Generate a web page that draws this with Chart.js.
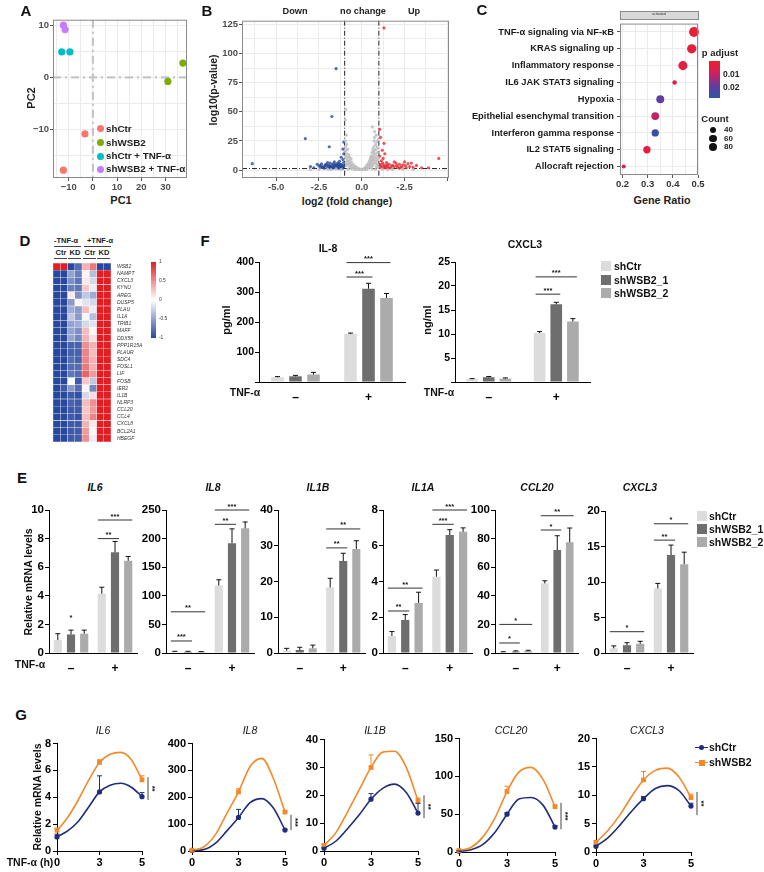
<!DOCTYPE html>
<html>
<head>
<meta charset="utf-8">
<script src="https://cdn.jsdelivr.net/npm/chart.js@4.4.1/dist/chart.umd.min.js"></script>
<style>
    body { margin: 0; background: #fff; }
    #fig { position: relative; width: 764px; height: 872px; overflow: hidden; font-family: "Liberation Sans", Arial, Helvetica, sans-serif; color: #111; }
    #fig canvas { position: absolute; }
</style>
</head>
<body>
<div id="fig"></div>
<script>
        // ---------- data ----------
        // A: PCA
        const pcaGroups = ['shCtr', 'shWSB2', 'shCtr + TNF-α', 'shWSB2 + TNF-α'];
        const shCtrPC = [[-3.3, -10.9], [-12.2, -17.9]];
        const shWsb2PC = [[37.2, 2.75], [31.0, -0.8]];
        const shCtrTnfPC = [[-12.9, 4.9], [-9.5, 4.9]];
        const shWsb2TnfPC = [[-12.2, 10.05], [-11.5, 9.2]];

        // B: volcano (log2 fold change, -log10 p)
        const volcanoTickValues = [-5, -2.5, 0, 2.5];
        const volcanoTickLabels = ['-5.0', '-2.5', '0.0', '-2.5'];
        const fcCut = 1;
        const pCut = 1.3;
        const downGenes = [[-6.4, 5.5], [-3.3, 27], [-1.75, 46], [-1.5, 87], [-1.9, 20], [-1.1, 18], [-1.05, 24],
            [-2.6, 5], [-2.5, 3.5], [-2.4, 4], [-2.3, 2.5], [-2.2, 3], [-2.1, 5], [-2.0, 2], [-1.95, 4], [-1.9, 3],
            [-1.85, 6], [-1.8, 2.5], [-1.75, 4.5], [-1.7, 3], [-1.65, 5.5], [-1.6, 2], [-1.55, 3.5], [-1.5, 4],
            [-1.45, 2.5], [-1.4, 6], [-1.35, 3], [-1.3, 4.5], [-1.25, 2], [-1.2, 5], [-1.15, 3.5], [-1.1, 2.5],
            [-1.05, 6.5], [-1.02, 4], [-1.3, 7.5], [-1.6, 7], [-2.8, 2], [-3.0, 3], [-2.0, 6.5], [-1.1, 9],
            [-1.2, 11], [-1.4, 1.8], [-1.7, 1.6], [-2.2, 1.7], [-1.05, 14], [-1.35, 5.5], [-1.5, 2.2], [-1.25, 3.2],
            [-1.15, 1.9], [-1.08, 3], [-1.9, 1.6], [-2.4, 2.2], [-1.12, 1.5], [-1.28, 2.6], [-1.42, 3.8], [-1.58, 4.4],
            [-1.72, 2.2], [-1.88, 3.6], [-2.05, 4.2], [-2.25, 2.1], [-2.35, 5.3], [-1.18, 4.2], [-1.33, 1.5],
            [-1.48, 5], [-1.62, 3], [-1.95, 2.4], [-2.15, 3.8]];
        const unchangedGenes = [[0.15, 1.5], [0.2, 2], [0.25, 3], [0.3, 4], [0.35, 5], [0.4, 6], [0.45, 8], [0.5, 10],
            [0.55, 12], [0.6, 15], [0.65, 18], [0.7, 20], [0.72, 25], [0.75, 28], [0.8, 22], [0.85, 18], [0.88, 12],
            [0.9, 8], [0.92, 5], [0.7, 10], [0.6, 7], [0.5, 5], [0.45, 3], [0.8, 14], [0.62, 37], [0.75, 33],
            [0.85, 30], [0.55, 2.5], [0.65, 4], [0.75, 6], [0.85, 3], [0.4, 2.5], [0.3, 1.8], [0.95, 26], [0.9, 20],
            [0.7, 14], [0.6, 9], [0.78, 11], [0.68, 16], [0.58, 11], [0.52, 7], [0.82, 9], [0.92, 15], [0.97, 10],
            [0.35, 2.8], [0.48, 4], [0.62, 5.5], [0.72, 8], [0.83, 6], [0.93, 3], [0.55, 8.5], [0.66, 12], [0.77, 17],
            [0.87, 24], [-0.25, 0.9], [-0.42, 2.6], [-0.58, 4.2], [-0.68, 5.8], [-0.78, 7.5], [-0.88, 4.2], [-0.95, 12],
            [-0.82, 18], [-0.72, 11], [-0.52, 2.2],
            [-0.2, 1.5], [-0.3, 2.5], [-0.4, 3.5], [-0.5, 5], [-0.6, 7], [-0.7, 9], [-0.8, 11], [-0.85, 14],
            [-0.9, 17], [-0.95, 20], [-0.97, 43], [-0.93, 52], [-0.9, 30], [-0.95, 25], [-0.65, 4], [-0.75, 6],
            [-0.55, 3], [-0.45, 2], [-0.35, 1.5], [-0.85, 8], [-0.8, 5], [-0.7, 3], [-0.9, 10], [-0.6, 2],
            [-0.5, 1.5], [-0.75, 13], [-0.92, 6], [-0.88, 22], [-0.98, 16], [-0.62, 10],
            [-2.5, 0.5], [-2.0, 0.8], [-1.5, 1.0], [-1.2, 0.6], [-0.8, 0.9], [-0.4, 0.3], [0, 0.2], [0.3, 0.5],
            [0.8, 0.7], [1.2, 0.9], [1.8, 0.6], [2.4, 0.8], [3.0, 0.5], [-0.1, 0.8], [0.1, 0.9], [-1.8, 0.4],
            [1.5, 0.3], [-3, 0.6], [-0.2, 0.4], [0.2, 0.3], [0.6, 1.0], [-0.6, 1.1]];
        const upGenes = [[1.3, 122], [1.05, 35], [1.1, 28], [1.3, 23], [1.2, 17], [1.05, 12], [4.5, 10], [1.1, 2],
            [1.2, 3], [1.3, 4.5], [1.4, 2.5], [1.5, 3.5], [1.6, 5], [1.7, 2], [1.8, 4], [1.9, 3], [2.0, 6],
            [2.1, 2.5], [2.2, 5], [2.3, 3], [2.4, 4.5], [2.5, 7], [2.6, 2], [2.7, 5.5], [2.8, 3], [3.0, 2.5],
            [3.2, 4], [3.5, 2], [1.15, 8], [1.25, 10], [1.45, 6.5], [1.02, 5], [1.35, 14], [1.9, 7], [2.9, 6],
            [3.9, 2], [1.6, 1.8], [2.2, 1.6], [1.08, 3.5], [1.12, 4.5], [1.22, 6], [1.38, 3.2], [1.55, 2.2],
            [1.75, 3.5], [2.05, 4], [2.35, 2.2], [2.55, 3.8], [1.28, 1.8], [1.48, 4.8]];

        // C: hallmark enrichment
        const pathways = ['TNF-α signaling via NF-κB', 'KRAS signaling up', 'Inflammatory response',
            'IL6 JAK STAT3 signaling', 'Hypoxia', 'Epithelial esenchymal transition',
            'Interferon gamma response', 'IL2 STAT5 signaling', 'Allocraft rejection'];
        const geneRatio = [0.484, 0.475, 0.44, 0.407, 0.35, 0.33, 0.33, 0.297, 0.205];
        const geneCount = [105, 95, 90, 22, 68, 66, 58, 58, 18];
        const pAdjust = [0.002, 0.003, 0.004, 0.006, 0.021, 0.011, 0.026, 0.004, 0.010];
        const countLegend = [40, 60, 80];

        // D: heatmap (z-scores)
        const heatGenes = ['WSB2', 'NAMPT', 'CXCL3', 'KYNU', 'AREG', 'DUSP5', 'PLAU', 'IL1A', 'TRIB1', 'MAFF',
            'DDX58', 'PPP1R15A', 'PLAUR', 'SDC4', 'FOSL1', 'LIF', 'FOSB', 'IER2', 'IL1B', 'NLRP3', 'CCL20',
            'CCL4', 'CXCL8', 'BCL2A1', 'HBEGF'];
        const heatValues = [
            [1.0, 1.0, -1.0, -0.8, 0.35, 0.6, -1.0, -1.0],
            [-1.0, -1.0, -0.5, -0.7, 0.05, -0.35, 1.0, 1.0],
            [-1.0, -1.0, -0.6, -0.75, 0.1, -0.2, 1.0, 1.0],
            [-1.0, -1.0, -0.7, -0.75, 0.25, -0.1, 1.0, 1.0],
            [-1.0, -1.0, 0.1, -0.6, -0.3, -0.45, 1.0, 1.0],
            [-1.0, -1.0, -0.55, 0.05, -0.15, -0.2, 1.0, 1.0],
            [-1.0, -1.0, -0.45, -0.55, 0.3, -0.1, 1.0, 1.0],
            [-1.0, -1.0, -0.3, -0.55, -0.05, -0.35, 1.0, 1.0],
            [-1.0, -1.0, -0.5, -0.45, -0.2, -0.15, 1.0, 1.0],
            [-1.0, -1.0, -0.5, -0.6, 0.3, 0.05, 1.0, 1.0],
            [-1.0, -1.0, -0.5, -0.65, 0.35, 0.15, 1.0, 1.0],
            [-1.0, -1.0, -0.85, -0.85, 0.5, 0.35, 1.0, 1.0],
            [-1.0, -1.0, -0.85, -0.85, 0.55, 0.3, 1.0, 1.0],
            [-1.0, -1.0, -0.8, -0.85, 0.55, 0.35, 1.0, 1.0],
            [-1.0, -1.0, -0.8, -0.8, 0.6, 0.35, 1.0, 1.0],
            [-1.0, -1.0, -0.75, -0.8, 0.7, 0.45, 1.0, 1.0],
            [-1.0, -1.0, 0.0, -0.9, 0.25, -0.3, 1.0, 1.0],
            [-1.0, -0.9, -0.55, -0.8, 0.05, -0.65, 1.0, 1.0],
            [-1.0, -1.0, -0.9, -0.95, -0.2, 0.15, 1.0, 1.0],
            [-1.0, -1.0, -0.85, -0.9, 0.3, 0.5, 1.0, 1.0],
            [-1.0, -1.0, -0.9, -0.9, 0.25, 0.45, 1.0, 1.0],
            [-1.0, -1.0, -0.9, -0.95, 0.3, 0.55, 1.0, 1.0],
            [-1.0, -1.0, -0.9, -0.9, 0.35, 0.1, 1.0, 1.0],
            [-1.0, -1.0, -0.9, -0.9, 0.45, 0.05, 1.0, 1.0],
            [-1.0, -1.0, -0.9, -0.9, 0.5, -0.1, 1.0, 1.0]
        ];
        const heatColumns = 8;

        // E / F: bars, order [- shCtr, - shWSB2_1, - shWSB2_2, + shCtr, + shWSB2_1, + shWSB2_2]
        const tnfLabels = ['–', '+'];
        const groupNames = ['shCtr', 'shWSB2_1', 'shWSB2_2'];

        const il8ProteinMean = [16, 19, 25, 160, 311, 280];
        const il8ProteinErr = [2, 3, 7, 3, 18, 15];
        const cxcl3ProteinMean = [0.6, 1.0, 0.7, 10.2, 16.2, 12.6];
        const cxcl3ProteinErr = [0.1, 0.15, 0.15, 0.3, 0.4, 0.6];

        const il6Mean = [0.9, 1.3, 1.35, 4.15, 7.05, 6.45];
        const il6Err = [0.45, 0.3, 0.25, 0.45, 0.75, 0.3];
        const il8Mean = [2, 2, 2, 118, 192, 218];
        const il8Err = [1, 1, 0.5, 10, 25, 11];
        const il1bMean = [0.65, 0.85, 1.3, 18.3, 25.7, 29.1];
        const il1bErr = [0.65, 0.75, 0.9, 2.6, 2.2, 2.3];
        const il1aMean = [0.95, 1.85, 2.8, 4.27, 6.6, 6.78];
        const il1aErr = [0.25, 0.3, 0.6, 0.37, 0.3, 0.22];
        const ccl20Mean = [0.6, 1.0, 1.4, 48.7, 72, 77.4];
        const ccl20Err = [0.3, 0.5, 0.5, 1.8, 10, 10];
        const cxcl3Mean = [0.65, 1.1, 1.3, 9.1, 13.8, 12.5];
        const cxcl3Err = [0.35, 0.35, 0.35, 0.7, 1.4, 1.7];

        // G: time course (0, 3, 5 h) and fitted curves
        const timeLabels = ['0', '3', '5'];
        const timeU = [0, 1, 2];
        const curveU = [0, 0.25, 0.5, 0.75, 1, 1.25, 1.5, 1.75, 2];

        const il6TimeCtr = [1.05, 4.4, 4.05];
        const il6TimeCtrErr = [0.2, 1.2, 0.3];
        const il6TimeKd = [1.55, 6.6, 5.3];
        const il6TimeKdErr = [0.15, 0.2, 0.3];
        const il6CurveCtr = [1.05, 1.5, 2.2, 3.3, 4.4, 4.9, 5.05, 4.75, 4.05];
        const il6CurveKd = [1.5, 2.5, 3.8, 5.3, 6.6, 7.2, 7.35, 6.8, 5.3];

        const il8TimeCtr = [2, 125, 78];
        const il8TimeCtrErr = [0, 30, 3];
        const il8TimeKd = [3, 220, 145];
        const il8TimeKdErr = [0, 12, 5];
        const il8CurveCtr = [2, 5, 28, 75, 125, 180, 195, 160, 78];
        const il8CurveKd = [3, 15, 60, 140, 220, 315, 345, 270, 145];

        const il1bTimeCtr = [1, 18.6, 13.6];
        const il1bTimeCtrErr = [0.3, 2, 3.5];
        const il1bTimeKd = [2, 30, 18];
        const il1bTimeKdErr = [0.3, 4.5, 1];
        const il1bCurveCtr = [1, 3.5, 8, 13, 18.6, 22.5, 24, 21, 13.6];
        const il1bCurveKd = [2, 6.5, 14, 22, 30, 35.5, 35.8, 30, 18];

        const ccl20TimeCtr = [1, 50, 33];
        const ccl20TimeCtrErr = [0.5, 2, 2];
        const ccl20TimeKd = [2, 80, 60];
        const ccl20TimeKdErr = [0.5, 7, 2];
        const ccl20CurveCtr = [1, 3, 10, 26, 50, 70, 72, 62, 33];
        const ccl20CurveKd = [2, 6, 20, 45, 80, 106, 112, 96, 60];

        const cxcl3TimeCtr = [1.0, 9.4, 8.1];
        const cxcl3TimeCtrErr = [0.2, 0.4, 0.5];
        const cxcl3TimeKd = [1.7, 12.7, 9.6];
        const cxcl3TimeKdErr = [0.3, 1.5, 0.6];
        const cxcl3CurveCtr = [1.0, 2.5, 4.7, 7.2, 9.4, 11.2, 11.7, 10.8, 8.1];
        const cxcl3CurveKd = [1.7, 3.8, 6.5, 9.8, 12.7, 14.4, 14.8, 13.2, 9.6];

        // ---------- styles ----------
        const FONT = '"Liberation Sans", Arial, Helvetica, sans-serif';
        const pcaColors = ['#f8766d', '#7cae00', '#00bfc4', '#c77cff'];
        const barColors = ['#dcdcdc', '#6e6e6e', '#ababab'];
        const ctrColor = '#1f2d7b';
        const kdColor = '#f28a2a';

        Chart.defaults.font.family = FONT;
        Chart.defaults.color = '#111';
        Chart.defaults.animation = false;
        Chart.defaults.events = [];
        Chart.defaults.responsive = false;
        Chart.defaults.maintainAspectRatio = false;
        Chart.defaults.plugins.legend.display = false;
        Chart.defaults.plugins.tooltip.enabled = false;

        // error bars, significance marks, reference lines, panel frame
        Chart.register({
            id: 'marks',
            beforeDatasetsDraw(chart, args, o) {
                const { ctx, chartArea: a, scales } = chart;
                (o.refLines || []).forEach(r => {
                    ctx.save();
                    ctx.strokeStyle = r.color;
                    ctx.lineWidth = r.width;
                    ctx.setLineDash(r.dash || []);
                    ctx.beginPath();
                    if ('x' in r) {
                        const p = scales.x.getPixelForValue(r.x);
                        ctx.moveTo(p, a.top); ctx.lineTo(p, a.bottom);
                    } else {
                        const p = scales.y.getPixelForValue(r.y);
                        ctx.moveTo(a.left, p); ctx.lineTo(a.right, p);
                    }
                    ctx.stroke();
                    ctx.restore();
                });
            },
            afterDatasetsDraw(chart, args, o) {
                const { ctx, chartArea: a, scales: { x, y } } = chart;
                ctx.save();
                ctx.lineWidth = 1;
                (o.errors || []).forEach((errs, di) => {
                    if (!errs) return;
                    const meta = chart.getDatasetMeta(di);
                    ctx.strokeStyle = o.errorColor ? o.errorColor[di] : '#111';
                    meta.data.forEach((el, i) => {
                        if (!errs[i]) return;
                        const raw = chart.data.datasets[di].data[i];
                        const v = typeof raw === 'number' ? raw : raw.y;
                        const top = y.getPixelForValue(v + errs[i]);
                        ctx.beginPath();
                        ctx.moveTo(el.x, el.y); ctx.lineTo(el.x, top);
                        ctx.moveTo(el.x - 2.5, top); ctx.lineTo(el.x + 2.5, top);
                        ctx.stroke();
                    });
                });
                ctx.fillStyle = '#111';
                ctx.font = 'bold 7.5px ' + FONT;
                ctx.textAlign = 'center';
                (o.sig || []).forEach(s => {
                    const xa = chart.getDatasetMeta(s.a).data[s.g].x;
                    const xb = chart.getDatasetMeta(s.b).data[s.g].x;
                    const py = y.getPixelForValue(s.y);
                    if (s.line !== false) {
                        ctx.strokeStyle = '#333';
                        ctx.beginPath(); ctx.moveTo(xa - 4, py); ctx.lineTo(xb + 4, py); ctx.stroke();
                    }
                    ctx.textBaseline = 'alphabetic';
                    ctx.fillText(s.t, (xa + xb) / 2, py - 1.5);
                });
                (o.sigV || []).forEach(s => {
                    const px = x.getPixelForValue(s.x) + 6;
                    const y1 = y.getPixelForValue(s.y1), y2 = y.getPixelForValue(s.y2);
                    ctx.strokeStyle = '#444';
                    ctx.beginPath(); ctx.moveTo(px, y1); ctx.lineTo(px, y2); ctx.stroke();
                    ctx.save();
                    ctx.translate(px + 4, (y1 + y2) / 2);
                    ctx.rotate(Math.PI / 2);
                    ctx.textBaseline = 'middle';
                    ctx.fillText(s.t, 0, 0);
                    ctx.restore();
                });
                if (o.frame) {
                    ctx.strokeStyle = o.frame;
                    ctx.strokeRect(a.left + 0.5, a.top + 0.5, a.width - 1, a.height - 1);
                }
                ctx.restore();
            }
        });

        const fig = document.getElementById('fig');

        // place a chart so that its plot area sits on box (page pixels)
        function chartAt(box, pad, config) {
            const c = document.createElement('canvas');
            const w = box.r - box.l + pad.l + pad.r;
            const h = box.b - box.t + pad.t + pad.b;
            c.width = w; c.height = h;
            c.style.left = (box.l - pad.l) + 'px';
            c.style.top = (box.t - pad.t) + 'px';
            c.style.width = w + 'px';
            c.style.height = h + 'px';
            fig.appendChild(c);
            const sc = config.options.scales;
            const yRight = sc.y.position === 'right';
            const xShown = sc.x.display !== false;
            config.options.layout = { padding: { top: pad.t, bottom: xShown ? 0 : pad.b, left: yRight ? pad.l : 0, right: yRight ? 0 : pad.r } };
            sc.x.afterFit = s => { s.height = pad.b; };
            sc.y.afterFit = s => { s.width = yRight ? pad.r : pad.l; };
            return new Chart(c, config);
        }

        function text(str, x, y, size, o = {}) {
            const d = document.createElement('div');
            d.textContent = str;
            d.style.cssText = 'position:absolute;white-space:nowrap;line-height:1;left:' + x + 'px;top:' + y + 'px;font-size:' + size +
                'px;font-weight:' + (o.weight || 'bold') + ';font-style:' + (o.italic ? 'italic' : 'normal') + ';color:' + (o.color || '#111') + ';';
            const ax = o.align === 'left' ? '0' : o.align === 'right' ? '-100%' : '-50%';
            d.style.transform = 'translate(' + ax + ',-50%)' + (o.rotate ? ' rotate(-90deg)' : '');
            fig.appendChild(d);
        }

        function shape(x, y, w, h, css) {
            const d = document.createElement('div');
            d.style.cssText = 'position:absolute;left:' + x + 'px;top:' + y + 'px;width:' + w + 'px;height:' + h + 'px;' + css;
            fig.appendChild(d);
        }

        function mix(stops, t) {
            t = Math.max(0, Math.min(1, t));
            for (let i = 1; i < stops.length; i++) {
                if (t <= stops[i][0]) {
                    const [t0, c0] = stops[i - 1], [t1, c1] = stops[i];
                    const f = (t - t0) / (t1 - t0);
                    return 'rgb(' + c0.map((v, k) => Math.round(v + (c1[k] - v) * f)).join(',') + ')';
                }
            }
            return 'rgb(' + stops[stops.length - 1][1].join(',') + ')';
        }
        const padjStops = [[0, [238, 32, 42]], [0.35, [210, 30, 95]], [0.72, [100, 60, 160]], [1, [45, 85, 165]]];
        const heatStops = [[0, [40, 72, 160]], [0.5, [255, 255, 255]], [1, [224, 30, 36]]];
        const padjColor = p => mix(padjStops, p / 0.028);
        const heatColor = v => mix(heatStops, (v + 1) / 2);
        const countRadius = n => 0.48 * Math.sqrt(n);

        const ggGrid = { color: '#ebebeb', tickLength: 3 };
        const ggTicks = { autoSkip: false, maxRotation: 0, includeBounds: false, maxTicksLimit: 60, color: '#4d4d4d', font: { size: 9.5, weight: 'bold' }, padding: 1 };
        const isStep = (v, s) => Math.abs(v / s - Math.round(v / s)) < 1e-6;

        // ---------- A: PCA ----------
        chartAt({ l: 53, t: 17, r: 187, b: 178 }, { l: 28, r: 8, t: 4, b: 14 }, {
            type: 'scatter',
            data: {
                datasets: [shCtrPC, shWsb2PC, shCtrTnfPC, shWsb2TnfPC].map((pts, i) => ({
                    label: pcaGroups[i],
                    data: pts.map(p => ({ x: p[0], y: p[1] })),
                    backgroundColor: pcaColors[i], borderWidth: 0, pointRadius: 3.6, clip: false
                }))
            },
            options: {
                scales: {
                    x: {
                        min: -16.5, max: 38.9, border: { display: false },
                        grid: { ...ggGrid, tickColor: c => c.tick && isStep(c.tick.value, 10) ? '#555' : 'transparent' },
                        ticks: { ...ggTicks, stepSize: 5, callback: v => isStep(v, 10) ? String(v).replace('-', '−') : '' }
                    },
                    y: {
                        min: -19.4, max: 11.1, border: { display: false },
                        grid: { ...ggGrid, tickColor: c => c.tick && isStep(c.tick.value, 10) ? '#555' : 'transparent' },
                        ticks: { ...ggTicks, stepSize: 5, callback: v => isStep(v, 10) ? String(v).replace('-', '−') : '' }
                    }
                },
                plugins: {
                    marks: {
                        frame: '#8a8a8a',
                        refLines: [
                            { x: 0, color: '#c6c6c6', width: 2.2, dash: [8, 4, 2, 4] },
                            { y: 0, color: '#c6c6c6', width: 2.2, dash: [8, 4, 2, 4] }
                        ]
                    }
                }
            }
        });

        // ---------- B: volcano ----------
        const volcanoSet = (pts, color) => ({
            data: pts.map(p => ({ x: p[0], y: p[1] })),
            backgroundColor: color, borderWidth: 0, pointRadius: 1.6
        });
        chartAt({ l: 242, t: 18, r: 449, b: 178 }, { l: 30, r: 6, t: 4, b: 14 }, {
            type: 'scatter',
            data: {
                datasets: [
                    volcanoSet(unchangedGenes, 'rgba(190,190,190,0.85)'),
                    volcanoSet(downGenes, 'rgba(40,72,155,0.8)'),
                    volcanoSet(upGenes, 'rgba(226,45,50,0.8)')
                ]
            },
            options: {
                scales: {
                    x: {
                        min: -7.0, max: 5.1, border: { display: false },
                        grid: { ...ggGrid, tickColor: c => c.tick && isStep(c.tick.value, 2.5) ? '#555' : 'transparent' },
                        ticks: {
                            ...ggTicks, stepSize: 1.25,
                            callback: v => {
                                const i = volcanoTickValues.findIndex(t => Math.abs(t - v) < 1e-6);
                                return i < 0 ? '' : volcanoTickLabels[i];
                            }
                        }
                    },
                    y: {
                        min: -6.8, max: 128.2, border: { display: false },
                        grid: { ...ggGrid, tickColor: c => c.tick && isStep(c.tick.value, 25) ? '#555' : 'transparent' },
                        ticks: { ...ggTicks, stepSize: 12.5, callback: v => isStep(v, 25) ? v : '' }
                    }
                },
                plugins: {
                    marks: {
                        frame: '#8a8a8a',
                        refLines: [
                            { x: -fcCut, color: '#222', width: 1, dash: [5, 2, 1, 2] },
                            { x: fcCut, color: '#222', width: 1, dash: [5, 2, 1, 2] },
                            { y: pCut, color: '#222', width: 1, dash: [5, 2, 1, 2] }
                        ]
                    }
                }
            }
        });

        // ---------- C: enrichment dot plot ----------
        chartAt({ l: 620, t: 19, r: 698, b: 175 }, { l: 160, r: 10, t: 4, b: 14 }, {
            type: 'bubble',
            data: {
                datasets: [{
                    data: pathways.map((p, i) => ({ x: geneRatio[i], y: p, r: countRadius(geneCount[i]) })),
                    backgroundColor: pAdjust.map(padjColor), borderWidth: 0, clip: false
                }]
            },
            options: {
                scales: {
                    x: {
                        min: 0.19, max: 0.5, border: { display: false },
                        grid: { ...ggGrid, tickColor: c => c.tick && isStep(c.tick.value, 0.1) ? '#555' : 'transparent' },
                        ticks: { ...ggTicks, stepSize: 0.05, color: '#333', callback: v => isStep(v, 0.1) ? v.toFixed(1) : '' }
                    },
                    y: {
                        type: 'category', labels: pathways, offset: true, border: { display: false },
                        grid: { ...ggGrid, offset: false, tickColor: '#555' },
                        ticks: { autoSkip: false, color: '#1a1a1a', font: { size: 9.3, weight: 'bold' }, padding: 3 }
                    }
                },
                plugins: { marks: { frame: '#8a8a8a' } }
            }
        });

        // ---------- D: heatmap ----------
        chartAt({ l: 53, t: 262, r: 111, b: 443 }, { l: 0, r: 40, t: 0, b: 0 }, {
            type: 'bar',
            data: {
                labels: heatGenes,
                datasets: Array.from({ length: heatColumns }, (_, j) => ({
                    data: heatGenes.map(() => 1),
                    backgroundColor: heatGenes.map((g, i) => heatColor(heatValues[i][j])),
                    borderColor: 'rgba(255,255,255,0.35)', borderWidth: 0.5, borderSkipped: false,
                    barPercentage: 1, categoryPercentage: 1
                }))
            },
            options: {
                indexAxis: 'y',
                scales: {
                    x: { display: false, stacked: true, min: 0, max: heatColumns },
                    y: {
                        position: 'right', stacked: true, grid: { display: false }, border: { display: false },
                        ticks: { autoSkip: false, color: '#333', font: { size: 5, style: 'italic' }, padding: -2 }
                    }
                }
            }
        });

        // ---------- E / F: grouped bars ----------
        function groupedBars(box, pad, yMax, yStep, means, errs, sigs, o) {
            return chartAt(box, pad, {
                type: 'bar',
                data: {
                    labels: tnfLabels,
                    datasets: groupNames.map((name, k) => ({
                        label: name, data: [means[k], means[k + 3]], backgroundColor: barColors[k],
                        barPercentage: o.barPct, categoryPercentage: o.catPct
                    }))
                },
                options: {
                    scales: {
                        x: {
                            grid: { display: false }, border: { color: '#000', width: 1 },
                            ticks: { color: '#000', font: { size: 12, weight: 'bold' }, padding: 0 }
                        },
                        y: {
                            min: 0, max: yMax, border: { color: '#000', width: 1 },
                            grid: { drawOnChartArea: false, tickLength: 4, tickColor: '#000' },
                            ticks: {
                                stepSize: yStep, autoSkip: false, color: '#000', font: { size: o.tickSize, weight: 'bold' }, padding: 1,
                                callback: v => (o.hideZero && v === 0) ? '' : v
                            }
                        }
                    },
                    plugins: { marks: { errors: groupNames.map((n, k) => [errs[k], errs[k + 3]]), sig: sigs } }
                }
            });
        }

        const fOpts = { barPct: 0.7, catPct: 0.74, tickSize: 10.5, hideZero: true };
        const fPad = { l: 36, r: 6, t: 18, b: 22 };
        groupedBars({ l: 259, t: 262, r: 405, b: 382 }, fPad, 400, 100, il8ProteinMean, il8ProteinErr,
            [{ g: 1, a: 0, b: 1, y: 350, t: '***' }, { g: 1, a: 0, b: 2, y: 398, t: '***' }], fOpts);
        groupedBars({ l: 455, t: 262, r: 590, b: 382 }, fPad, 25, 5, cxcl3ProteinMean, cxcl3ProteinErr,
            [{ g: 1, a: 0, b: 1, y: 18.3, t: '***' }, { g: 1, a: 0, b: 2, y: 21.9, t: '***' }], fOpts);

        const eOpts = { barPct: 0.62, catPct: 0.9, tickSize: 11.5, hideZero: false };
        const ePad = { l: 32, r: 6, t: 16, b: 22 };
        groupedBars({ l: 49, t: 510, r: 137, b: 653 }, ePad, 10, 2, il6Mean, il6Err,
            [{ g: 0, a: 1, b: 1, y: 2.2, t: '*', line: false }, { g: 1, a: 0, b: 1, y: 8.0, t: '**' }, { g: 1, a: 0, b: 2, y: 9.3, t: '***' }], eOpts);
        groupedBars({ l: 166, t: 510, r: 254, b: 653 }, ePad, 250, 50, il8Mean, il8Err,
            [{ g: 0, a: 0, b: 2, y: 72, t: '**' }, { g: 0, a: 0, b: 1, y: 21, t: '***' }, { g: 1, a: 0, b: 1, y: 225, t: '**' }, { g: 1, a: 0, b: 2, y: 250, t: '***' }], eOpts);
        groupedBars({ l: 278, t: 510, r: 365, b: 653 }, ePad, 40, 10, il1bMean, il1bErr,
            [{ g: 1, a: 0, b: 1, y: 29.4, t: '**' }, { g: 1, a: 0, b: 2, y: 34.7, t: '**' }], eOpts);
        groupedBars({ l: 383, t: 510, r: 472, b: 653 }, ePad, 8, 2, il1aMean, il1aErr,
            [{ g: 0, a: 0, b: 1, y: 2.35, t: '**' }, { g: 0, a: 0, b: 2, y: 3.63, t: '**' }, { g: 1, a: 0, b: 1, y: 7.2, t: '***' }, { g: 1, a: 0, b: 2, y: 8.0, t: '***' }], eOpts);
        groupedBars({ l: 495, t: 510, r: 578, b: 653 }, ePad, 100, 20, ccl20Mean, ccl20Err,
            [{ g: 0, a: 0, b: 1, y: 7, t: '*' }, { g: 0, a: 0, b: 2, y: 20, t: '*' }, { g: 1, a: 0, b: 1, y: 86, t: '*' }, { g: 1, a: 0, b: 2, y: 96, t: '**' }], eOpts);
        groupedBars({ l: 605, t: 511, r: 693, b: 653 }, ePad, 20, 5, cxcl3Mean, cxcl3Err,
            [{ g: 0, a: 0, b: 2, y: 3, t: '*' }, { g: 1, a: 0, b: 1, y: 15.9, t: '**' }, { g: 1, a: 0, b: 2, y: 18.2, t: '*' }], eOpts);

        // ---------- G: time course ----------
        function timeCourse(box, yMax, yStep, curveCtr, curveKd, ptCtr, ptKd, errCtr, errKd, sigV) {
            const pts = (xs, ys) => xs.map((x, i) => ({ x, y: ys[i] }));
            return chartAt(box, { l: 32, r: 22, t: 8, b: 20 }, {
                type: 'scatter',
                data: {
                    datasets: [
                        { data: pts(curveU, curveKd), showLine: true, borderColor: kdColor, borderWidth: 1.6, pointRadius: 0, cubicInterpolationMode: 'monotone', clip: false },
                        { data: pts(curveU, curveCtr), showLine: true, borderColor: ctrColor, borderWidth: 1.6, pointRadius: 0, cubicInterpolationMode: 'monotone', clip: false },
                        { data: pts(timeU, ptKd), pointStyle: 'rect', pointRadius: 3.4, backgroundColor: kdColor, borderWidth: 0, clip: false },
                        { data: pts(timeU, ptCtr), pointStyle: 'circle', pointRadius: 2.6, backgroundColor: ctrColor, borderWidth: 0, clip: false }
                    ]
                },
                options: {
                    scales: {
                        x: {
                            min: 0, max: 2, border: { color: '#000', width: 1 },
                            grid: { drawOnChartArea: false, tickLength: 4, tickColor: '#000' },
                            ticks: { stepSize: 1, autoSkip: false, color: '#000', font: { size: 11, weight: 'bold' }, padding: 1, callback: v => timeLabels[v] }
                        },
                        y: {
                            min: 0, max: yMax, border: { color: '#000', width: 1 },
                            grid: { drawOnChartArea: false, tickLength: 4, tickColor: '#000' },
                            ticks: { stepSize: yStep, autoSkip: false, color: '#000', font: { size: 11, weight: 'bold' }, padding: 2 }
                        }
                    },
                    plugins: { marks: { errors: [null, null, errKd, errCtr], errorColor: [null, null, kdColor, ctrColor], sigV: [sigV] } }
                }
            });
        }

        timeCourse({ l: 57, t: 743, r: 142, b: 851 }, 8, 2, il6CurveCtr, il6CurveKd, il6TimeCtr, il6TimeKd, il6TimeCtrErr, il6TimeKdErr,
            { x: 2, y1: 5.5, y2: 3.8, t: '**' });
        timeCourse({ l: 192, t: 743, r: 285, b: 851 }, 400, 100, il8CurveCtr, il8CurveKd, il8TimeCtr, il8TimeKd, il8TimeCtrErr, il8TimeKdErr,
            { x: 2, y1: 135, y2: 78, t: '***' });
        timeCourse({ l: 324, t: 739, r: 418, b: 851 }, 40, 10, il1bCurveCtr, il1bCurveKd, il1bTimeCtr, il1bTimeKd, il1bTimeCtrErr, il1bTimeKdErr,
            { x: 2, y1: 20, y2: 11.8, t: '**' });
        timeCourse({ l: 459, t: 738, r: 555, b: 852 }, 150, 50, ccl20CurveCtr, ccl20CurveKd, ccl20TimeCtr, ccl20TimeKd, ccl20TimeCtrErr, ccl20TimeKdErr,
            { x: 2, y1: 65, y2: 30, t: '***' });
        timeCourse({ l: 596, t: 738, r: 691, b: 852 }, 20, 5, cxcl3CurveCtr, cxcl3CurveKd, cxcl3TimeCtr, cxcl3TimeKd, cxcl3TimeCtrErr, cxcl3TimeKdErr,
            { x: 2, y1: 10.6, y2: 6.5, t: '**' });

        // ---------- text, legends ----------
        [['A', 26, 10], ['B', 207, 10], ['C', 482, 9], ['D', 25, 240], ['F', 205, 240], ['E', 22, 477], ['G', 21, 714]]
            .forEach(([s, x, y]) => text(s, x, y, 15));

        // A
        text('PC1', 121, 200, 11, { color: '#222' });
        text('PC2', 31, 98, 11, { color: '#222', rotate: true });
        [128.5, 142.5, 156, 169].forEach((y, i) => {
            shape(96.5, y - 3.5, 7, 7, 'border-radius:50%;background:' + pcaColors[i] + ';');
            text(pcaGroups[i], 106, y, 9.8, { align: 'left', color: '#222' });
        });

        // B
        text('log2 (fold change)', 347, 201, 10.5, { color: '#222' });
        text('log10(p-value)', 213, 90, 10.5, { color: '#222', rotate: true });
        text('Down', 295, 12, 9.2, { color: '#222' });
        text('no change', 363, 12, 9.2, { color: '#222' });
        text('Up', 414, 12, 9.2, { color: '#222' });

        // C
        shape(620, 11, 77, 7, 'background:#d9d9d9;border:0.5px solid #8a8a8a;');
        text('activated', 659, 15, 3.5, { weight: 'normal', color: '#333' });
        text('Gene Ratio', 662, 200, 10.8, { color: '#222' });
        text('p adjust', 720, 53, 9.5, { color: '#222' });
        shape(709, 61, 11, 37, 'background:linear-gradient(to bottom,' + [0, 0.35, 0.72, 1].map(t => mix(padjStops, t)).join(',') + ');');
        text('0.01', 723, 74, 8.5, { align: 'left', color: '#222' });
        text('0.02', 723, 87, 8.5, { align: 'left', color: '#222' });
        text('Count', 715, 119, 9.5, { color: '#222' });
        [130, 138.5, 147].forEach((y, i) => {
            const r = countRadius(countLegend[i]);
            shape(713 - r, y - r, 2 * r, 2 * r, 'border-radius:50%;background:#111;');
            text(String(countLegend[i]), 724, y, 8, { align: 'left', color: '#222' });
        });

        // D
        text('-TNF-α', 66, 241, 7.5, { color: '#222' });
        text('+TNF-α', 100, 241, 7.5, { color: '#222' });
        shape(54, 246, 27, 0, 'border-top:1px solid #444;');
        shape(84, 246, 27, 0, 'border-top:1px solid #444;');
        [['Ctr', 61], ['KD', 75], ['Ctr', 90], ['KD', 104]].forEach(([s, x]) => text(s, x, 253, 7.5, { color: '#222' }));
        [54, 68, 83, 97].forEach(x => shape(x, 258, 13, 0, 'border-top:1px solid #444;'));
        shape(151, 262, 5, 76, 'background:linear-gradient(to bottom,' + [1, 0.5, 0].map(t => mix(heatStops, t)).join(',') + ');');
        [['1', 262], ['0.5', 281], ['0', 300], ['-0.5', 319], ['-1', 338]].forEach(([s, y]) => text(s, 159, y, 4.8, { align: 'left', weight: 'normal', color: '#333' }));

        // F
        text('IL-8', 328, 248, 10.5);
        text('CXCL3', 525, 244, 10.5);
        text('pg/ml', 226, 320, 11, { rotate: true });
        text('ng/ml', 427, 320, 11, { rotate: true });
        text('TNF-α', 245, 392, 10.5);
        text('TNF-α', 439, 392, 10.5);
        [266, 279.5, 293].forEach((y, i) => {
            shape(601, y - 5, 10, 10, 'background:' + barColors[i] + ';');
            text(groupNames[i], 614, y, 10.5, { align: 'left' });
        });

        // E
        [['IL6', 95], ['IL8', 213], ['IL1B', 318], ['IL1A', 423], ['CCL20', 537], ['CXCL3', 640]]
            .forEach(([s, x]) => text(s, x, 487, 10.5, { italic: true }));
        text('Relative mRNA levels', 28, 582, 10.5, { rotate: true });
        text('TNF-α', 30, 664, 10.5);
        [516, 529, 542].forEach((y, i) => {
            shape(697, y - 5, 10, 10, 'background:' + barColors[i] + ';');
            text(groupNames[i], 709, y, 10.5, { align: 'left' });
        });

        // G
        [['IL6', 103], ['IL8', 250], ['IL1B', 375], ['CCL20', 511], ['CXCL3', 647]]
            .forEach(([s, x]) => text(s, x, 730, 10.5, { italic: true, weight: 'normal' }));
        text('Relative mRNA levels', 37, 797, 10.5, { rotate: true });
        text('TNF-α (h)', 30, 862, 10.5);
        shape(695, 747, 13, 0, 'border-top:1.6px solid ' + ctrColor + ';');
        shape(698.5, 744.5, 5.5, 5.5, 'border-radius:50%;background:' + ctrColor + ';');
        text('shCtr', 709, 747, 10.5, { align: 'left' });
        shape(695, 762, 13, 0, 'border-top:1.6px solid ' + kdColor + ';');
        shape(698.5, 759.5, 6, 6, 'background:' + kdColor + ';');
        text('shWSB2', 709, 762, 10.5, { align: 'left' });
</script>
</body>
</html>
